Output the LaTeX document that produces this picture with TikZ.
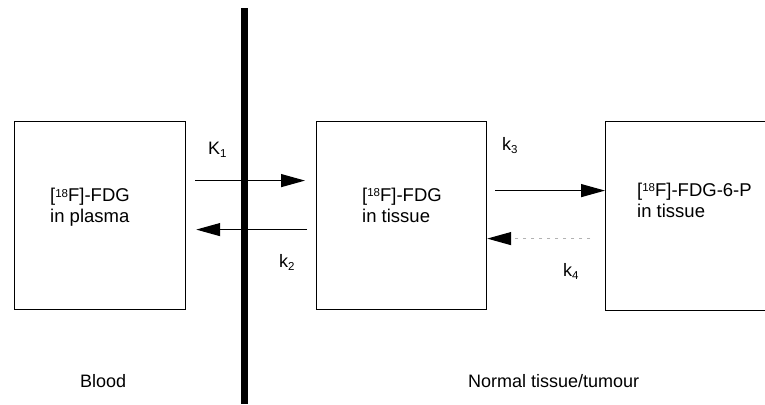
\documentclass[tikz,border=0pt]{standalone}
\usepackage{fontspec}
\setmainfont{Liberation Sans}
\usetikzlibrary{arrows.meta}
\newcommand{\isoup}[1]{\raisebox{4.6pt}{\fontsize{11.5}{11.5}\selectfont #1}}
\newcommand{\ratesub}[1]{\raisebox{-3pt}{\fontsize{11.5}{11.5}\selectfont #1}}
\begin{document}
\begin{tikzpicture}[x=1pt,y=1pt,
  box/.style={draw, line width=1.2pt, minimum width=171pt, minimum height=188pt, inner sep=0pt},
  txt/.style={font=\fontsize{18.5}{21}\selectfont, inner sep=0pt, align=left},
  lbl/.style={font=\fontsize{18}{21}\selectfont, inner sep=0pt},
  arr/.style={line width=1.2pt, -{Triangle[length=24pt,width=13pt]}},
  dotarr/.style={line width=1.2pt, gray!60, dash pattern=on 3pt off 5pt,
                 -{Triangle[length=24pt,width=13pt,fill=black,color=black]}},
]
\clip (0,0) rectangle (765,404);
\fill[white] (0,0) rectangle (765,404);

% compartments
\node[box, anchor=north west] (b1) at (14,283) {};
\node[box, anchor=north west, minimum width=170pt] (b2) at (316,283) {};
\node[box, anchor=north west, minimum width=170pt, minimum height=189pt] (b3) at (605,283) {};

% membrane
\node[fill=black, inner sep=0pt, minimum width=7pt, minimum height=396pt, anchor=north] (mem) at (244.5,396) {};

% compartment texts (base anchor = baseline of the last line)
\node[txt, anchor=base west] (t1) at (50,181) {[\isoup{18}F]-FDG\\in plasma};
\node[txt, anchor=base west] (t2) at (362,181.5) {[\isoup{18}F]-FDG\\in tissue};
\node[txt, anchor=base west] (t3) at (637,186.5) {[\isoup{18}F]-FDG-6-P\\in tissue};

% connectors
\coordinate (k1s) at ([xshift=9pt,yshift=35pt]b1.east);
\coordinate (k1e) at ([xshift=-11pt,yshift=35pt]b2.west);
\draw[arr] (k1s) -- (k1e);
\coordinate (k2s) at ([xshift=-9pt,yshift=-14pt]b2.west);
\coordinate (k2e) at ([xshift=10pt,yshift=-14pt]b1.east);
\draw[arr] (k2s) -- (k2e);
\coordinate (k3s) at ([xshift=8pt,yshift=25pt]b2.east);
\draw[arr] (k3s) -- (b3.west |- k3s);
\coordinate (k4s) at ([xshift=-15pt,yshift=-22.5pt]b3.west);
\draw[dotarr] (k4s) -- (b2.east |- k4s);

% rate constants
\node[lbl, anchor=base west] (lK1) at (208,249) {K\ratesub{1}};
\node[lbl, anchor=base west] (lk2) at (279,136) {k\ratesub{2}};
\node[lbl, anchor=base west] (lk3) at (502,253.3) {k\ratesub{3}};
\node[lbl, anchor=base west] (lk4) at (563,127.3) {k\ratesub{4}};

% region labels
\node[lbl, anchor=base west] (blood) at (80,16.3) {Blood};
\node[lbl, anchor=base west] (tissue) at (468,16.3) {Normal tissue/tumour};
\end{tikzpicture}
\end{document}
